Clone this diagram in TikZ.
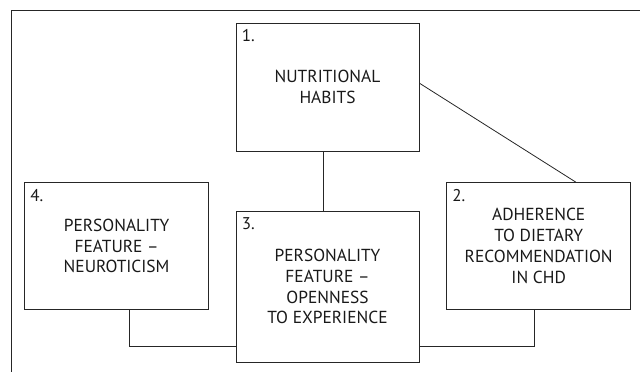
\documentclass[tikz,border=0pt]{standalone}
\usepackage{fontspec}
\setmainfont{PT Sans}
\begin{document}
\begin{tikzpicture}[x=1pt,y=-1pt,
  box/.style={draw=black!85, line width=0.9pt, inner sep=0pt, align=center,
    font=\fontsize{17.4}{20.8}\selectfont, text=black!90},
  bsmall/.style={box, minimum width=184pt, minimum height=126.6pt},
  num/.style={anchor=north west, inner sep=0pt, font=\fontsize{17}{19}\selectfont, text=black!90},
  conn/.style={draw=black!85, line width=0.8pt}]
\useasboundingbox (0,0) rectangle (640,372);
\draw[conn] (11.7,372) -- (11.7,10) -- (640,10);
\node[box, minimum width=183pt, minimum height=127.7pt] (b1) at (327.5,87.2) {NUTRITIONAL\\HABITS};
\node[box, minimum width=183pt, minimum height=150.5pt] (b3) at (327.5,286.7) {PERSONALITY\\FEATURE --\\OPENNESS\\TO EXPERIENCE};
\node[bsmall] (b4) at (116.6,246) {PERSONALITY\\FEATURE --\\NEUROTICISM};
\node[bsmall] (b2) at (538.7,246) {ADHERENCE\\TO DIETARY\\RECOMMENDATION\\IN CHD};
\node[num] (n1) at ([xshift=6pt,yshift=-6.5pt]b1.north west) {1.};
\node[num] (n2) at ([xshift=6pt,yshift=-6.5pt]b2.north west) {2.};
\node[num] (n3) at ([xshift=6pt,yshift=-6.5pt]b3.north west) {3.};
\node[num] (n4) at ([xshift=6pt,yshift=-6.5pt]b4.north west) {4.};
\draw[conn] ([xshift=-4pt]b1.south) -- ([xshift=-4pt]b3.north);
\draw[conn] ([yshift=4pt]b1.east) -- ([xshift=37.3pt]b2.north);
\coordinate (c4) at ([yshift=-60pt]b3.west);
\coordinate (c2) at ([yshift=-60pt]b3.east);
\draw[conn] ([xshift=12.7pt]b4.south) |- (c4);
\draw[conn] ([xshift=-4.4pt]b2.south) |- (c2);
\end{tikzpicture}
\end{document}
